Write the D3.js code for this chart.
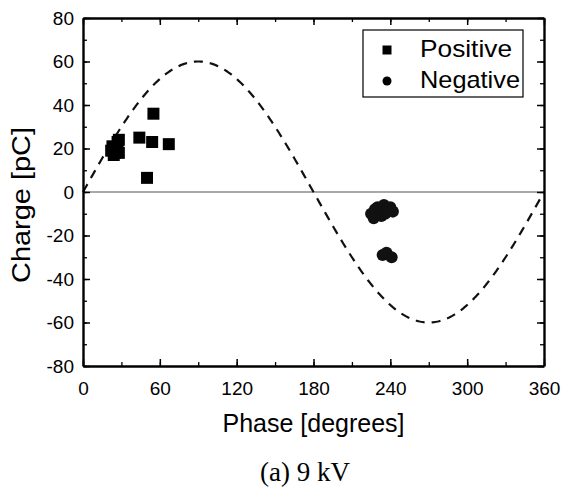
<!DOCTYPE html>
<html><head><meta charset="utf-8">
<script src="https://cdn.jsdelivr.net/npm/d3@7"></script>
<style>body{margin:0;background:#fff}svg{display:block}</style>
</head><body>
<script>
const xTicks = [0, 60, 120, 180, 240, 300, 360];
const yTicks = [-80, -60, -40, -20, 0, 20, 40, 60, 80];
const positivePhase = [22, 23, 25, 26, 27, 28, 28, 24, 44, 54, 55, 67, 50];
const positiveCharge = [19, 21, 18, 20, 23, 24, 18, 17, 25, 23, 36, 22, 6.5];
const negativePhase = [225, 228, 230, 232, 235, 238, 240, 242, 233, 227, 236, 234, 237, 241];
const negativeCharge = [-10, -8, -7, -9, -6, -8, -7, -9, -11, -12, -10, -29, -28, -30];
const sineAmplitude = 60;
const legendLabels = ["Positive", "Negative"];

const W = 562, H = 495;
const m = {l: 83, r: 18, t: 18, b: 129};
const svg = d3.select("body").append("svg").attr("width", W).attr("height", H);
const x = d3.scaleLinear().domain([0, 360]).range([m.l, W - m.r]);
const y = d3.scaleLinear().domain([-80, 80]).range([H - m.b, m.t]);
const font = "'Liberation Sans', Arial, sans-serif";
const fmt = d => String(d);

// zero line
svg.append("line").attr("x1", x(0)).attr("x2", x(360)).attr("y1", y(0)).attr("y2", y(0))
  .attr("stroke", "#a8a8a8").attr("stroke-width", 2);

// dashed sine
const sine = d3.range(0, 361, 1).map(p => [p, sineAmplitude * Math.sin(p * Math.PI / 180)]);
svg.append("path").datum(sine)
  .attr("d", d3.line().x(d => x(d[0])).y(d => y(d[1])))
  .attr("fill", "none").attr("stroke", "#111").attr("stroke-width", 2.2)
  .attr("stroke-dasharray", "9,7");

// axes (ticks inward)
const xMinor = d3.range(0, 361, 30), yMinor = d3.range(-80, 81, 10);
function addAxis(axis, tr, minorAxis) {
  const gm = svg.append("g").attr("transform", tr).call(minorAxis);
  gm.selectAll("text").remove(); gm.select(".domain").remove();
  gm.selectAll("line").attr("stroke", "#000").attr("stroke-width", 1.3);
  const g = svg.append("g").attr("transform", tr).call(axis);
  g.select(".domain").attr("stroke", "#000").attr("stroke-width", 2.4);
  g.selectAll("line").attr("stroke", "#000").attr("stroke-width", 1.5);
  return g;
}
const gx = addAxis(d3.axisBottom(x).tickValues(xTicks).tickFormat(fmt).tickSizeInner(-7).tickSizeOuter(0).tickPadding(16),
  `translate(0,${y(-80)})`, d3.axisBottom(x).tickValues(xMinor).tickSizeInner(-4).tickSizeOuter(0));
gx.selectAll("text").attr("font-family", font).attr("font-size", 19).attr("fill", "#000");
const gxt = addAxis(d3.axisTop(x).tickValues(xTicks).tickSizeInner(-7).tickSizeOuter(0),
  `translate(0,${y(80)})`, d3.axisTop(x).tickValues(xMinor).tickSizeInner(-4).tickSizeOuter(0));
gxt.selectAll("text").remove();
const gy = addAxis(d3.axisLeft(y).tickValues(yTicks).tickFormat(fmt).tickSizeInner(-7).tickSizeOuter(0).tickPadding(9),
  `translate(${x(0)},0)`, d3.axisLeft(y).tickValues(yMinor).tickSizeInner(-4).tickSizeOuter(0));
gy.selectAll("text").attr("font-family", font).attr("font-size", 19).attr("fill", "#000");
const gyr = addAxis(d3.axisRight(y).tickValues(yTicks).tickSizeInner(-7).tickSizeOuter(0),
  `translate(${x(360)},0)`, d3.axisRight(y).tickValues(yMinor).tickSizeInner(-4).tickSizeOuter(0));
gyr.selectAll("text").remove();

// points
const pos = positivePhase.map((p, i) => ({p, c: positiveCharge[i]}));
const neg = negativePhase.map((p, i) => ({p, c: negativeCharge[i]}));
const sq = d3.symbol().type(d3.symbolSquare).size(144);
const ci = d3.symbol().type(d3.symbolCircle).size(115);
svg.append("g").selectAll("path").data(pos).join("path")
  .attr("d", sq).attr("transform", d => `translate(${x(d.p)},${y(d.c)})`).attr("fill", "#000");
svg.append("g").selectAll("path").data(neg).join("path")
  .attr("d", ci).attr("transform", d => `translate(${x(d.p)},${y(d.c)})`).attr("fill", "#111");

// legend
const lg = svg.append("g");
lg.append("rect").attr("x", 363).attr("y", 30).attr("width", 160).attr("height", 67)
  .attr("fill", "#fff").attr("stroke", "#000").attr("stroke-width", 1.2);
lg.append("path").attr("d", d3.symbol().type(d3.symbolSquare).size(81)).attr("transform", "translate(387,50)");
lg.append("path").attr("d", d3.symbol().type(d3.symbolCircle).size(64)).attr("transform", "translate(387,81)");
const legendLen = [92, 100];
legendLabels.forEach((t, i) => {
  lg.append("text").attr("x", 420).attr("y", 57 + i * 31).text(t)
    .attr("font-family", font).attr("font-size", 24).attr("fill", "#000")
    .attr("textLength", legendLen[i]).attr("lengthAdjust", "spacingAndGlyphs");
});

// axis titles
svg.append("text").attr("x", (x(0) + x(360)) / 2).attr("y", 432).attr("text-anchor", "middle")
  .attr("font-family", font).attr("font-size", 25).text("Phase [degrees]");
svg.append("text").attr("transform", `translate(30,205) rotate(-90)`).attr("text-anchor", "middle")
  .attr("font-family", font).attr("font-size", 25)
  .attr("textLength", 156).attr("lengthAdjust", "spacingAndGlyphs").text("Charge [pC]");
svg.append("text").attr("x", 305).attr("y", 481).attr("text-anchor", "middle")
  .attr("font-family", "'Liberation Serif', 'Times New Roman', serif").attr("font-size", 27).text("(a) 9 kV");
</script>
</body></html>
